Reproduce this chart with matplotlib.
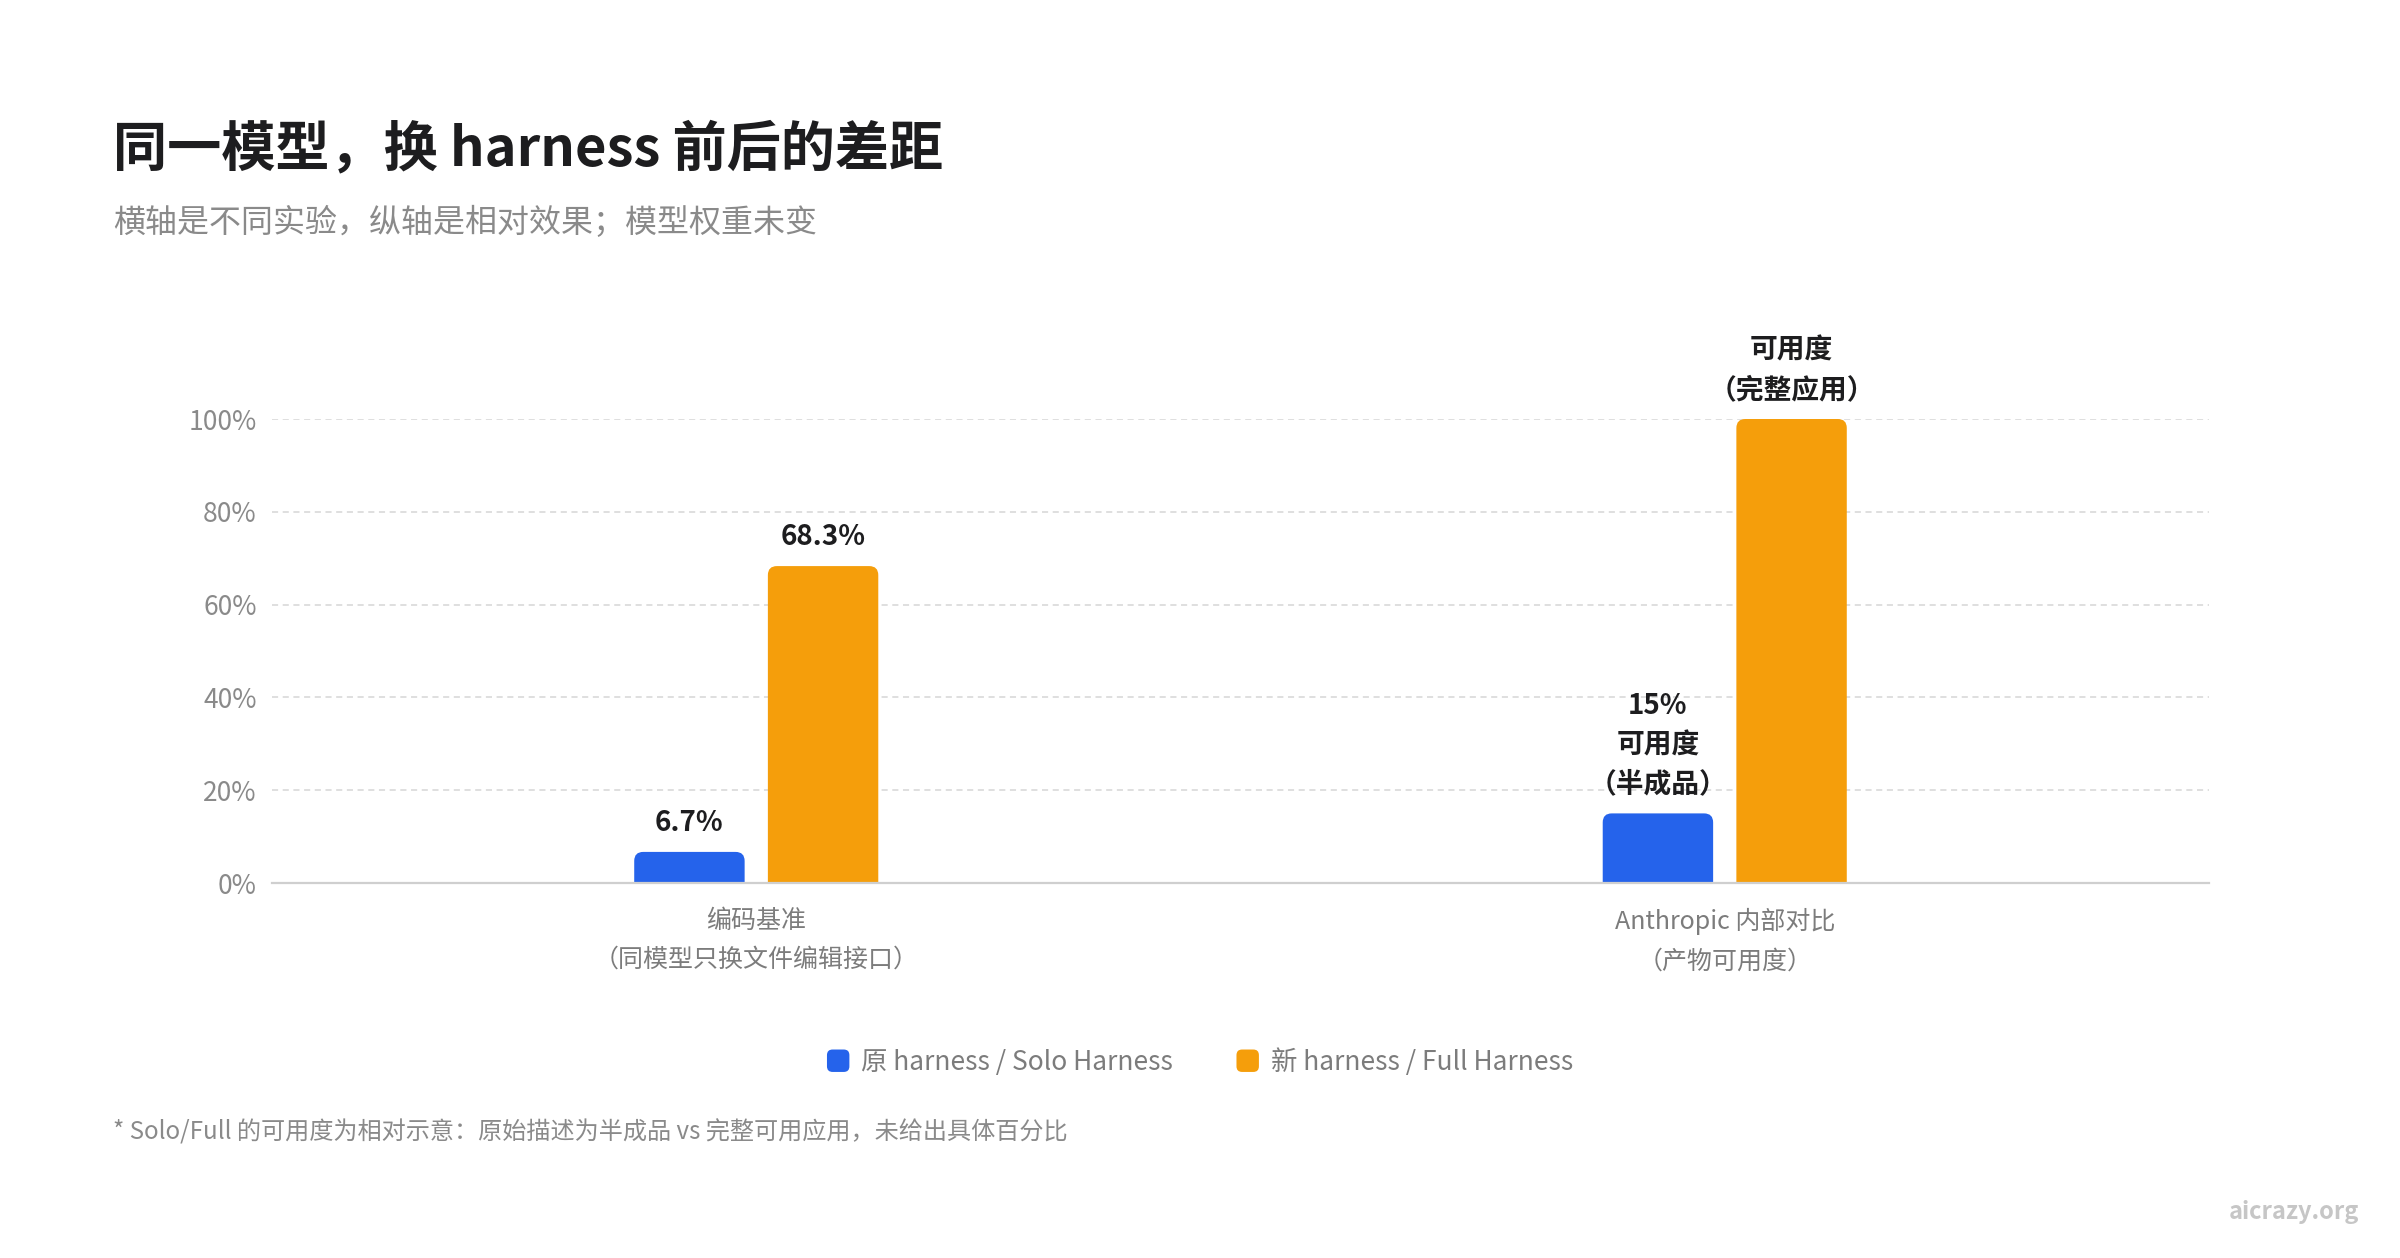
import matplotlib
matplotlib.use('Agg')
import matplotlib.pyplot as plt
from matplotlib.patches import FancyBboxPatch, Patch
from matplotlib.legend_handler import HandlerPatch
import numpy as np

plt.rcParams['font.family'] = ['Noto Sans CJK SC', 'DejaVu Sans']

# ---------------- data ----------------
categories = ['编码基准\n（同模型只换文件编辑接口）', 'Anthropic 内部对比\n（产物可用度）']
solo_values = [6.7, 15]
full_values = [68.3, 100]
solo_labels = ['6.7%', '15%\n可用度\n（半成品）']
full_labels = ['68.3%', '可用度\n（完整应用）']
series_names = ['原 harness / Solo Harness', '新 harness / Full Harness']
yticks = [0, 20, 40, 60, 80, 100]
ytick_labels = ['0%', '20%', '40%', '60%', '80%', '100%']

title = '同一模型，换 harness 前后的差距'
subtitle = '横轴是不同实验，纵轴是相对效果；模型权重未变'
footnote = '* Solo/Full 的可用度为相对示意：原始描述为半成品 vs 完整可用应用，未给出具体百分比'
watermark = 'aicrazy.org'

BLUE = '#2563EB'
ORANGE = '#F59E0B'
GRAY = '#8a8a8a'

# ---------------- figure ----------------
W, H = 2400, 1258
fig = plt.figure(figsize=(W / 100, H / 100), dpi=100)
fig.patch.set_facecolor('white')
ax_l, ax_r, ax_t, ax_b = 272, 2209, 419, 883
ax = fig.add_axes([ax_l / W, 1 - ax_b / H, (ax_r - ax_l) / W, (ax_b - ax_t) / H])

x = np.arange(len(categories))
bw = 0.114
off = 0.069
ax.set_xlim(-0.5, len(categories) - 0.5)
ax.set_ylim(0, 100)

px_per_x = (ax_r - ax_l) / (len(categories))
px_per_y = (ax_b - ax_t) / 100.0
r_px = 9


def round_bars(bars, color):
    rx = r_px / px_per_x
    aspect = px_per_x / px_per_y
    for rect in bars:
        rect.set_visible(False)
        x0, w, h = rect.get_x(), rect.get_width(), rect.get_height()
        ext = 10
        p = FancyBboxPatch((x0, -ext), w, h + ext,
                           boxstyle=f'round,pad=0,rounding_size={rx}',
                           mutation_aspect=aspect, fc=color, ec='none', zorder=3)
        ax.add_patch(p)


b1 = ax.bar(x - off, solo_values, bw, color=BLUE)
b2 = ax.bar(x + off, full_values, bw, color=ORANGE)
round_bars(b1, BLUE)
round_bars(b2, ORANGE)

# grid
ax.set_yticks(yticks)
ax.set_yticklabels(ytick_labels)
ax.yaxis.grid(True, color='#d6d6d6', linestyle=(0, (4, 3)), linewidth=1.1)
ax.set_axisbelow(True)
ax.axhline(0, color='#cfcfcf', lw=1.6, zorder=4, clip_on=False)
for s in ax.spines.values():
    s.set_visible(False)

ax.tick_params(axis='y', length=0, pad=11, labelsize=19, labelcolor=GRAY)
ax.set_xticks(x)
ax.set_xticklabels(categories)
ax.tick_params(axis='x', length=0, pad=18, labelsize=18, labelcolor='#7c7c7c')
for lbl in ax.get_xticklabels():
    lbl.set_linespacing(1.65)

# value labels
for xi, v, lab in zip(x - off, solo_values, solo_labels):
    ax.annotate(lab, xy=(xi, v), xytext=(0, 11), textcoords='offset points',
                ha='center', va='bottom', fontsize=20, fontweight='bold',
                color='#1d1d1f', linespacing=1.5, annotation_clip=False)
for xi, v, lab in zip(x + off, full_values, full_labels):
    ax.annotate(lab, xy=(xi, v), xytext=(0, 11), textcoords='offset points',
                ha='center', va='bottom', fontsize=20, fontweight='bold',
                color='#1d1d1f', linespacing=1.5, annotation_clip=False)

# titles
fig.text(113 / W, 1 - 150 / H, title, fontsize=39, fontweight='bold',
         color='#1d1d1f', ha='left', va='center')
fig.text(113 / W, 1 - 223 / H, subtitle, fontsize=23, color=GRAY,
         ha='left', va='center')
fig.text(113 / W, 1 - 1132 / H, footnote, fontsize=17.4, color=GRAY,
         ha='left', va='center')
fig.text(2359 / W, 1 - 1212 / H, watermark, fontsize=17, color='#c6c6c6',
         ha='right', va='center', fontweight='bold')


class RoundHandler(HandlerPatch):
    def create_artists(self, legend, orig_handle, xdescent, ydescent,
                       width, height, fontsize, trans):
        s = min(width, height * 1.15)
        x0 = -xdescent + (width - s) / 2
        y0 = -ydescent + (height - s) / 2
        p = FancyBboxPatch((x0, y0), s, s,
                           boxstyle=f'round,pad=0,rounding_size={s * 0.25}',
                           fc=orig_handle.get_facecolor(), ec='none',
                           transform=trans)
        return [p]


handles = [Patch(facecolor=BLUE), Patch(facecolor=ORANGE)]
fig.legend(handles=handles, labels=series_names, loc='center',
           bbox_to_anchor=(0.5, 1 - 1062 / H), ncol=2, frameon=False,
           fontsize=19, handlelength=0.85, handleheight=0.85,
           handletextpad=0.45, columnspacing=2.4, labelcolor='#7c7c7c',
           handler_map={Patch: RoundHandler()})

fig.savefig('out.png', dpi=100, facecolor='white')
